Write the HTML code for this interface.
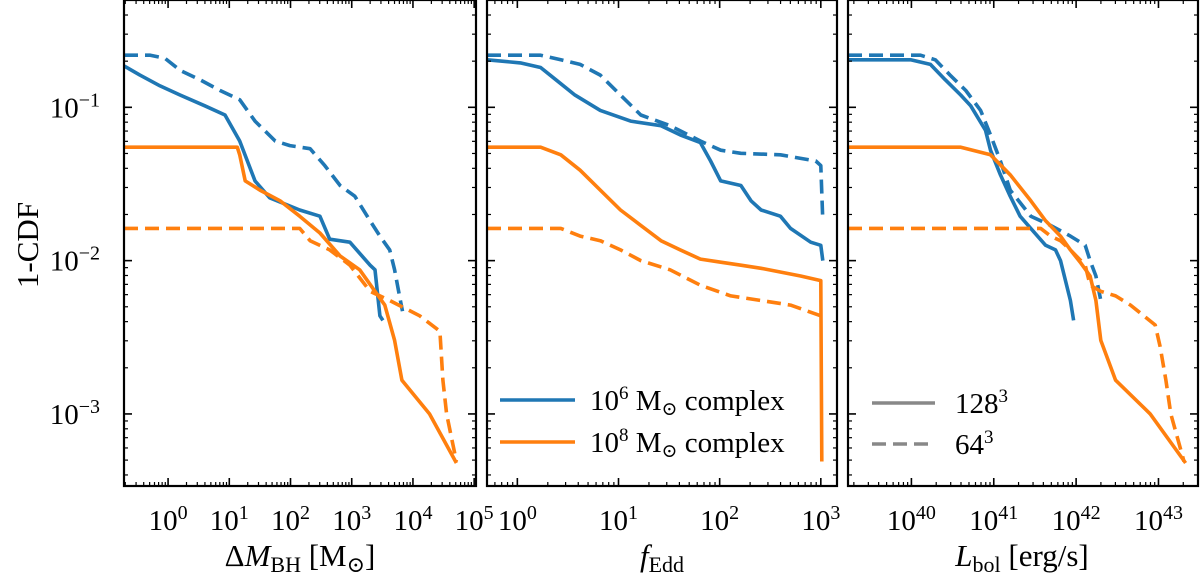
<!DOCTYPE html>
<html><head><meta charset="utf-8"><style>
body{margin:0;background:#fff;width:1200px;height:573px;overflow:hidden}
svg text{font-family:"Liberation Serif","DejaVu Serif",serif;fill:#000}
</style></head><body>
<svg id="chart" width="1200" height="573" viewBox="0 0 1200 573" xmlns="http://www.w3.org/2000/svg"></svg>
<script>
// ---- data (log10 values) ----
// Panel 1: Delta M_BH
const p1BlueSolidX=[-0.72,-0.46,-0.13,0.20,0.60,0.93,1.17,1.42,1.66,2.15,2.48,2.64,2.97,3.30,3.38,3.46,3.51];
const p1BlueSolidY=[-0.73,-0.79,-0.86,-0.92,-0.99,-1.05,-1.22,-1.48,-1.59,-1.67,-1.71,-1.86,-1.88,-2.03,-2.06,-2.36,-2.39];
const p1BlueDashX=[-0.72,-0.29,-0.05,0.20,0.52,0.85,1.17,1.42,1.75,1.99,2.32,2.56,2.81,3.05,3.30,3.46,3.62,3.70,3.78,3.83];
const p1BlueDashY=[-0.66,-0.66,-0.68,-0.76,-0.82,-0.89,-0.95,-1.09,-1.22,-1.25,-1.27,-1.38,-1.51,-1.58,-1.74,-1.84,-1.93,-2.06,-2.23,-2.33];
const p1OrangeSolidX=[-0.72,1.13,1.17,1.26,1.50,1.83,2.15,2.48,2.81,3.13,3.38,3.54,3.70,3.82,4.27,4.71];
const p1OrangeSolidY=[-1.26,-1.26,-1.31,-1.48,-1.54,-1.61,-1.71,-1.82,-1.97,-2.06,-2.20,-2.29,-2.52,-2.78,-3.0,-3.32];
const p1OrangeDashX=[-0.72,2.15,2.32,2.64,2.97,3.30,3.62,4.11,4.44,4.49,4.55,4.71];
const p1OrangeDashY=[-1.79,-1.79,-1.87,-1.93,-2.03,-2.20,-2.26,-2.36,-2.46,-2.78,-3.0,-3.31];
// Panel 2: f_Edd
const p2BlueSolidX=[-0.30,0.03,0.23,0.38,0.57,0.82,1.12,1.42,1.61,1.81,1.91,2.01,2.21,2.31,2.41,2.60,2.70,2.90,3.0,3.02];
const p2BlueSolidY=[-0.69,-0.71,-0.74,-0.82,-0.92,-1.02,-1.09,-1.12,-1.18,-1.23,-1.35,-1.48,-1.51,-1.61,-1.67,-1.71,-1.79,-1.88,-1.90,-2.00];
const p2BlueDashX=[-0.30,0.23,0.43,0.62,0.82,1.02,1.22,1.51,1.81,2.01,2.21,2.60,2.95,3.0,3.02];
const p2BlueDashY=[-0.66,-0.66,-0.69,-0.72,-0.79,-0.92,-1.05,-1.12,-1.22,-1.28,-1.30,-1.31,-1.35,-1.38,-1.74];
const p2OrangeSolidX=[-0.30,0.23,0.43,0.62,0.82,1.02,1.22,1.42,1.61,1.81,2.01,2.21,2.41,2.80,3.0,3.01];
const p2OrangeSolidY=[-1.26,-1.26,-1.31,-1.41,-1.54,-1.67,-1.77,-1.87,-1.93,-1.99,-2.01,-2.03,-2.05,-2.10,-2.13,-3.31];
const p2OrangeDashX=[-0.30,0.43,0.62,0.82,1.02,1.22,1.51,1.81,2.11,2.41,2.70,3.0,3.02];
const p2OrangeDashY=[-1.79,-1.79,-1.84,-1.87,-1.93,-2.00,-2.06,-2.16,-2.23,-2.26,-2.29,-2.36,-2.39];
// Panel 3: L_bol
const p3BlueSolidX=[39.23,39.99,40.23,40.41,40.60,40.72,40.90,40.96,41.08,41.20,41.32,41.45,41.63,41.75,41.81,41.93,41.97];
const p3BlueSolidY=[-0.69,-0.69,-0.72,-0.82,-0.92,-0.99,-1.15,-1.28,-1.44,-1.58,-1.71,-1.79,-1.90,-1.93,-2.00,-2.26,-2.39];
const p3BlueDashX=[39.23,40.11,40.29,40.47,40.66,40.84,40.96,41.08,41.20,41.45,41.69,41.93,42.11,42.17,42.24,42.30];
const p3BlueDashY=[-0.66,-0.66,-0.69,-0.79,-0.89,-1.02,-1.18,-1.35,-1.54,-1.71,-1.77,-1.84,-1.90,-2.00,-2.10,-2.26];
const p3OrangeSolidX=[39.23,40.60,40.96,41.20,41.45,41.63,41.81,41.93,42.05,42.17,42.24,42.30,42.48,42.90,43.33];
const p3OrangeSolidY=[-1.26,-1.26,-1.31,-1.44,-1.61,-1.74,-1.84,-1.93,-2.01,-2.10,-2.26,-2.52,-2.78,-3.0,-3.32];
const p3OrangeDashX=[39.23,41.57,41.69,41.81,41.93,42.11,42.17,42.30,42.48,42.66,42.96,43.02,43.09,43.15,43.31];
const p3OrangeDashY=[-1.79,-1.79,-1.84,-1.87,-1.93,-2.03,-2.16,-2.20,-2.23,-2.29,-2.42,-2.56,-2.78,-3.0,-3.31];
const p1Ticks=[0,1,2,3,4,5];
const p2Ticks=[0,1,2,3];
const p3Ticks=[40,41,42,43];
const yTicks=[-1,-2,-3];

const NS="http://www.w3.org/2000/svg";
const svg=document.getElementById('chart');
const BLUE="#1f77b4",ORANGE="#ff7f0e";
const Y0=0,Y1=486;
const yDom=[-0.30,-3.47];
function ys(v){return Y0+(v-yDom[0])/(yDom[1]-yDom[0])*(Y1-Y0);}
function mk(tag,attrs,parent){const e=document.createElementNS(NS,tag);for(const k in attrs)e.setAttribute(k,attrs[k]);(parent||svg).appendChild(e);return e;}

const panels=[
 {name:'dmbh',x0:124,x1:476,dom:[-0.72,5.03],ticks:p1Ticks,
  series:[[p1BlueSolidX,p1BlueSolidY,BLUE,0],[p1BlueDashX,p1BlueDashY,BLUE,1],[p1OrangeSolidX,p1OrangeSolidY,ORANGE,0],[p1OrangeDashX,p1OrangeDashY,ORANGE,1]]},
 {name:'fedd',x0:487,x1:837,dom:[-0.30,3.16],ticks:p2Ticks,
  series:[[p2BlueSolidX,p2BlueSolidY,BLUE,0],[p2BlueDashX,p2BlueDashY,BLUE,1],[p2OrangeSolidX,p2OrangeSolidY,ORANGE,0],[p2OrangeDashX,p2OrangeDashY,ORANGE,1]]},
 {name:'lbol',x0:848,x1:1198,dom:[39.23,43.48],ticks:p3Ticks,
  series:[[p3BlueSolidX,p3BlueSolidY,BLUE,0],[p3BlueDashX,p3BlueDashY,BLUE,1],[p3OrangeSolidX,p3OrangeSolidY,ORANGE,0],[p3OrangeDashX,p3OrangeDashY,ORANGE,1]]}
];

panels.forEach((p,pi)=>{
 const xs=v=>p.x0+(v-p.dom[0])/(p.dom[1]-p.dom[0])*(p.x1-p.x0);
 const g=mk('g',{});
 
 
 const clipId='clip'+pi;
 const cp=mk('clipPath',{id:clipId},g);mk('rect',{x:p.x0,y:Y0,width:p.x1-p.x0,height:Y1-Y0},cp);
 const sg=mk('g',{'clip-path':'url(#'+clipId+')'},g);
 p.series.forEach((s)=>{
  const d=s[0].map((v,i)=>(i?'L':'M')+xs(v).toFixed(1)+','+ys(s[1][i]).toFixed(1)).join('');
  const path=mk('path',{d:d,fill:'none',stroke:s[2],'stroke-width':3.6,'stroke-linejoin':'round'},sg);
  if(s[3])path.setAttribute('stroke-dasharray','14,7');
  
  
 });
 const lo=Math.floor(p.dom[0]),hi=Math.ceil(p.dom[1]);
 for(let dcd=lo;dcd<=hi;dcd++){
  for(let m=1;m<10;m++){
   const v=dcd+Math.log10(m);if(v<p.dom[0]||v>p.dom[1])continue;
   const x=xs(v),L=m==1?8:4;
   mk('line',{x1:x,x2:x,y1:Y1,y2:Y1-L,stroke:'#000','stroke-width':m==1?1.6:1.2},g);
   mk('line',{x1:x,x2:x,y1:Y0,y2:Y0+L,stroke:'#000','stroke-width':m==1?1.6:1.2},g);
  }
 }
 p.ticks.forEach(t=>{
  const tx=mk('text',{x:xs(t),y:530,'font-size':29,'text-anchor':'middle'},g);
  tx.innerHTML='10<tspan dy="-11" font-size="20">'+t+'</tspan>';
  
  
 });
 for(let dcd=-4;dcd<=0;dcd++){
  for(let m=1;m<10;m++){
   const v=dcd+Math.log10(m);if(v<yDom[1]||v>yDom[0])continue;
   const y=ys(v),L=m==1?8:4;
   mk('line',{x1:p.x0,x2:p.x0+L,y1:y,y2:y,stroke:'#000','stroke-width':m==1?1.6:1.2},g);
   mk('line',{x1:p.x1,x2:p.x1-L,y1:y,y2:y,stroke:'#000','stroke-width':m==1?1.6:1.2},g);
  }
 }
 const fr=mk('rect',{x:p.x0,y:Y0,width:p.x1-p.x0,height:Y1-Y0,fill:'none',stroke:'#000','stroke-width':2.2},g);
 
 
});
yTicks.forEach(t=>{
 const tx=mk('text',{x:100,y:ys(t)+10,'font-size':29,'text-anchor':'end'});
 tx.innerHTML='10<tspan dy="-11" font-size="20">−'+(-t)+'</tspan>';
 
 
});
</script>
<svg style="position:absolute;left:0;top:0" width="1200" height="573">
 <text transform="translate(38,245) rotate(-90)" font-size="31" text-anchor="middle">1-CDF</text>
 <text x="300" y="566" font-size="31" text-anchor="middle">Δ<tspan font-style="italic">M</tspan><tspan font-size="22" dy="6">BH</tspan><tspan dy="-6"> [M</tspan><tspan font-size="22" dy="6">⊙</tspan><tspan dy="-6">]</tspan></text>
 <text x="662" y="566" font-size="31" text-anchor="middle"><tspan font-style="italic">f</tspan><tspan font-size="22" dy="6">Edd</tspan></text>
 <text x="1022" y="566" font-size="31" text-anchor="middle"><tspan font-style="italic">L</tspan><tspan font-size="22" dy="6">bol</tspan><tspan dy="-6"> [erg/s]</tspan></text>
 <g>
  <line x1="500" x2="575" y1="400" y2="400" stroke="#1f77b4" stroke-width="3.6"/>
  <text x="590" y="410" font-size="29">10<tspan dy="-11" font-size="19">6</tspan><tspan dy="11"> M</tspan><tspan dy="5" font-size="19">⊙</tspan><tspan dy="-5"> complex</tspan></text>
  <line x1="500" x2="575" y1="442" y2="442" stroke="#ff7f0e" stroke-width="3.6"/>
  <text x="590" y="452" font-size="29">10<tspan dy="-11" font-size="19">8</tspan><tspan dy="11"> M</tspan><tspan dy="5" font-size="19">⊙</tspan><tspan dy="-5"> complex</tspan></text>
 </g>
 <g>
  <line x1="872" x2="935" y1="403" y2="403" stroke="#888" stroke-width="3.6"/>
  <text x="955" y="413" font-size="29">128<tspan dy="-11" font-size="19">3</tspan></text>
  <line x1="872" x2="935" y1="444" y2="444" stroke="#888" stroke-width="3.6" stroke-dasharray="14,7"/>
  <text x="955" y="454" font-size="29">64<tspan dy="-11" font-size="19">3</tspan></text>
 </g>
</svg>
</body></html>
